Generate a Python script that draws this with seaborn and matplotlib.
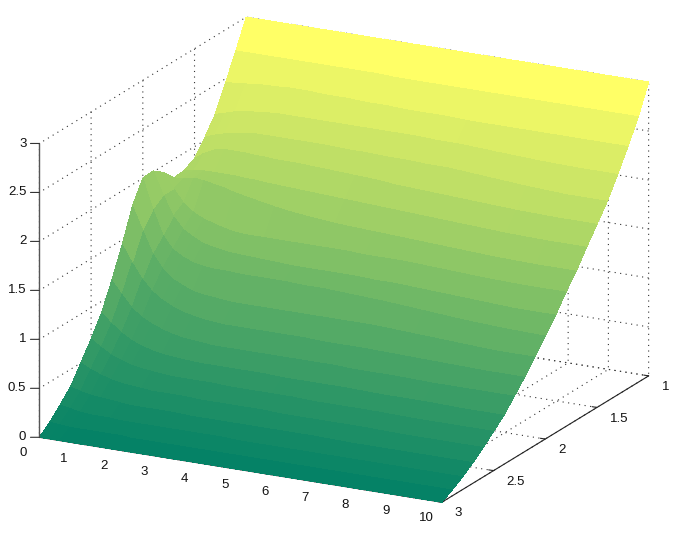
import matplotlib
matplotlib.use("Agg")
import matplotlib.pyplot as plt
from mpl_toolkits.mplot3d import proj3d
import numpy as np
import seaborn as sns

x_vals = [0, 0.25, 0.5, 0.75, 1, 1.25, 1.5, 1.75, 2, 2.5, 3, 3.5, 4, 4.5, 5, 5.5, 6, 7, 8, 9, 10]
y_vals = [1.0, 1.1, 1.2, 1.3, 1.4, 1.5, 1.6, 1.7, 1.8, 1.9, 2.0,
          2.1, 2.2, 2.3, 2.4, 2.5, 2.6, 2.7, 2.8, 2.9, 3.0]
# one row per y value, one column per x value
z_vals = [
    [3.00, 3.00, 3.00, 3.00, 3.00, 3.00, 3.00, 3.00, 3.00, 3.00, 3.00, 3.00, 3.00, 3.00, 3.00, 3.00, 3.00, 3.00, 3.00, 3.00, 3.00],
    [2.72, 2.72, 2.72, 2.72, 2.72, 2.72, 2.72, 2.72, 2.72, 2.72, 2.72, 2.72, 2.71, 2.71, 2.71, 2.71, 2.71, 2.71, 2.71, 2.71, 2.71],
    [2.46, 2.47, 2.48, 2.49, 2.50, 2.50, 2.51, 2.51, 2.51, 2.50, 2.50, 2.49, 2.49, 2.48, 2.48, 2.48, 2.47, 2.47, 2.47, 2.47, 2.47],
    [2.20, 2.23, 2.26, 2.28, 2.29, 2.30, 2.31, 2.31, 2.31, 2.31, 2.31, 2.31, 2.31, 2.31, 2.31, 2.30, 2.30, 2.28, 2.26, 2.25, 2.25],
    [2.03, 2.07, 2.10, 2.12, 2.14, 2.15, 2.15, 2.15, 2.15, 2.15, 2.15, 2.14, 2.14, 2.13, 2.13, 2.12, 2.12, 2.09, 2.06, 2.04, 2.04],
    [1.88, 1.95, 2.00, 2.02, 2.02, 2.02, 2.01, 2.01, 2.00, 2.00, 1.99, 1.98, 1.97, 1.96, 1.94, 1.93, 1.92, 1.90, 1.88, 1.87, 1.87],
    [1.82, 1.84, 1.85, 1.85, 1.85, 1.85, 1.84, 1.84, 1.83, 1.82, 1.81, 1.80, 1.79, 1.78, 1.77, 1.76, 1.75, 1.73, 1.71, 1.70, 1.70],
    [1.81, 1.82, 1.84, 1.83, 1.81, 1.79, 1.76, 1.74, 1.72, 1.68, 1.65, 1.63, 1.61, 1.60, 1.59, 1.58, 1.57, 1.55, 1.53, 1.52, 1.52],
    [1.93, 1.78, 1.65, 1.57, 1.52, 1.49, 1.46, 1.44, 1.43, 1.43, 1.43, 1.43, 1.43, 1.43, 1.42, 1.42, 1.42, 1.40, 1.38, 1.37, 1.37],
    [2.01, 1.78, 1.58, 1.46, 1.40, 1.35, 1.33, 1.31, 1.30, 1.29, 1.28, 1.27, 1.27, 1.27, 1.27, 1.26, 1.26, 1.24, 1.22, 1.20, 1.20],
    [2.00, 1.70, 1.45, 1.32, 1.26, 1.22, 1.20, 1.19, 1.19, 1.18, 1.18, 1.18, 1.17, 1.17, 1.16, 1.15, 1.14, 1.11, 1.08, 1.06, 1.05],
    [1.78, 1.55, 1.33, 1.19, 1.10, 1.05, 1.01, 0.99, 0.98, 0.96, 0.96, 0.96, 0.96, 0.96, 0.96, 0.96, 0.96, 0.94, 0.92, 0.90, 0.90],
    [1.45, 1.28, 1.13, 1.02, 0.95, 0.90, 0.86, 0.84, 0.82, 0.80, 0.80, 0.80, 0.80, 0.80, 0.79, 0.79, 0.79, 0.78, 0.77, 0.76, 0.76],
    [1.15, 1.02, 0.90, 0.82, 0.77, 0.73, 0.70, 0.68, 0.67, 0.65, 0.65, 0.65, 0.65, 0.65, 0.65, 0.65, 0.64, 0.64, 0.63, 0.63, 0.63],
    [0.88, 0.79, 0.71, 0.65, 0.61, 0.58, 0.56, 0.55, 0.54, 0.53, 0.53, 0.53, 0.53, 0.52, 0.52, 0.52, 0.52, 0.51, 0.51, 0.50, 0.50],
    [0.68, 0.61, 0.55, 0.51, 0.48, 0.46, 0.45, 0.44, 0.43, 0.43, 0.43, 0.42, 0.42, 0.42, 0.42, 0.41, 0.41, 0.41, 0.40, 0.40, 0.40],
    [0.50, 0.45, 0.41, 0.38, 0.36, 0.35, 0.34, 0.33, 0.33, 0.33, 0.32, 0.32, 0.32, 0.32, 0.31, 0.31, 0.31, 0.31, 0.30, 0.30, 0.30],
    [0.32, 0.29, 0.27, 0.26, 0.25, 0.24, 0.23, 0.23, 0.23, 0.23, 0.22, 0.22, 0.22, 0.22, 0.22, 0.22, 0.22, 0.21, 0.21, 0.21, 0.21],
    [0.20, 0.18, 0.16, 0.15, 0.15, 0.15, 0.14, 0.14, 0.14, 0.14, 0.14, 0.14, 0.14, 0.13, 0.13, 0.13, 0.13, 0.13, 0.13, 0.13, 0.13],
    [0.09, 0.08, 0.07, 0.07, 0.07, 0.07, 0.07, 0.07, 0.06, 0.06, 0.06, 0.06, 0.06, 0.06, 0.06, 0.06, 0.06, 0.06, 0.06, 0.06, 0.06],
    [0.00, 0.00, 0.00, 0.00, 0.00, 0.00, 0.00, 0.00, 0.00, 0.00, 0.00, 0.00, 0.00, 0.00, 0.00, 0.00, 0.00, 0.00, 0.00, 0.00, 0.00],
]
x_ticks = [0, 1, 2, 3, 4, 5, 6, 7, 8, 9, 10]
y_ticks = [1, 1.5, 2, 2.5, 3]
z_ticks = [0, 0.5, 1, 1.5, 2, 2.5, 3]
y_labels = ["1", "1.5", "2", "2.5", "3"]
z_labels = ["0", "0.5", "1", "1.5", "2", "2.5", "3"]

sns.set_style("white")
plt.rcParams["font.family"] = ["Liberation Sans", "DejaVu Sans"]
plt.rcParams["font.size"] = 9.5

W, H = 684, 537
SIDE, LEFT, BOTTOM = 690, -10.3, -77

fig = plt.figure(figsize=(W / 100, H / 100), dpi=100)
ax = fig.add_axes([LEFT / W, BOTTOM / H, SIDE / W, SIDE / H],
                  projection="3d", computed_zorder=False)
ax.set_proj_type("ortho")
ax.view_init(elev=18.3, azim=-62.8)
ax.set_box_aspect((1, 1, 0.684))

# summer colormap: each strip keeps nearly one colour, only the hump lightens
X, Y = np.meshgrid(x_vals, y_vals)
Z = np.array(z_vals)
far = Z[:, -1:]
weight = np.array([0.5, 0.35, 0.2] + [0.12] * (len(x_vals) - 3))
cmap = sns.color_palette("summer", as_cmap=True)
colors = cmap(np.interp(far + weight * (Z - far), [0, 2.04, 3], [0, 0.745, 1]))
ax.plot_surface(X, Y, Z, facecolors=colors, rstride=1, cstride=1,
                shade=False, linewidth=0, antialiased=False, zorder=2)

ax.set_xlim(0, 10, view_margin=0)
ax.set_ylim(3, 1, view_margin=0)
ax.set_zlim(0, 3, view_margin=0)
ax.set_xticks(x_ticks)
ax.set_yticks(y_ticks)
ax.set_zticks(z_ticks)

for axis in (ax.xaxis, ax.yaxis, ax.zaxis):
    axis.set_major_formatter(plt.NullFormatter())
    axis.set_pane_color((1, 1, 1, 1))
    axis.pane.set_edgecolor("white")
    axis._axinfo["grid"].update(color="#333333", linestyle=(0, (1, 4)), linewidth=0.8)
    axis._axinfo["tick"].update(inward_factor=0, outward_factor=0.15)
    axis.line.set_color("#222222")
    axis.line.set_linewidth(0.8)
ax.zaxis.line.set_visible(False)
ax.zaxis._axinfo["tick"].update(inward_factor=0, outward_factor=0)


def label(x, y, z, s, ha="center"):
    # project once so the label is plain 2D text
    px, py, _ = proj3d.proj_transform(x, y, z, ax.get_proj())
    ax.text2D(px, py, s, transform=ax.transData, ha=ha, va="center", color="#111111", zorder=4)


# z axis sits on the front left corner
ax.plot([0, 0], [3, 3], [0, 3], color="#555555", lw=1, zorder=3)
for t, lab in zip(z_ticks, z_labels):
    ax.plot([0, -0.176], [3, 3.018], [t, t], color="#333333", lw=0.8, zorder=3)
    label(-0.255, 3.027, t, lab, ha="right")

# tick labels placed off the floor edges
for t in x_ticks:
    label(t + 0.19, 3.228, 0, str(t))
for t, lab in zip(y_ticks, y_labels):
    label(10.612, t + 0.112, 0, lab, ha="left")

fig.savefig("out.png", dpi=100)
